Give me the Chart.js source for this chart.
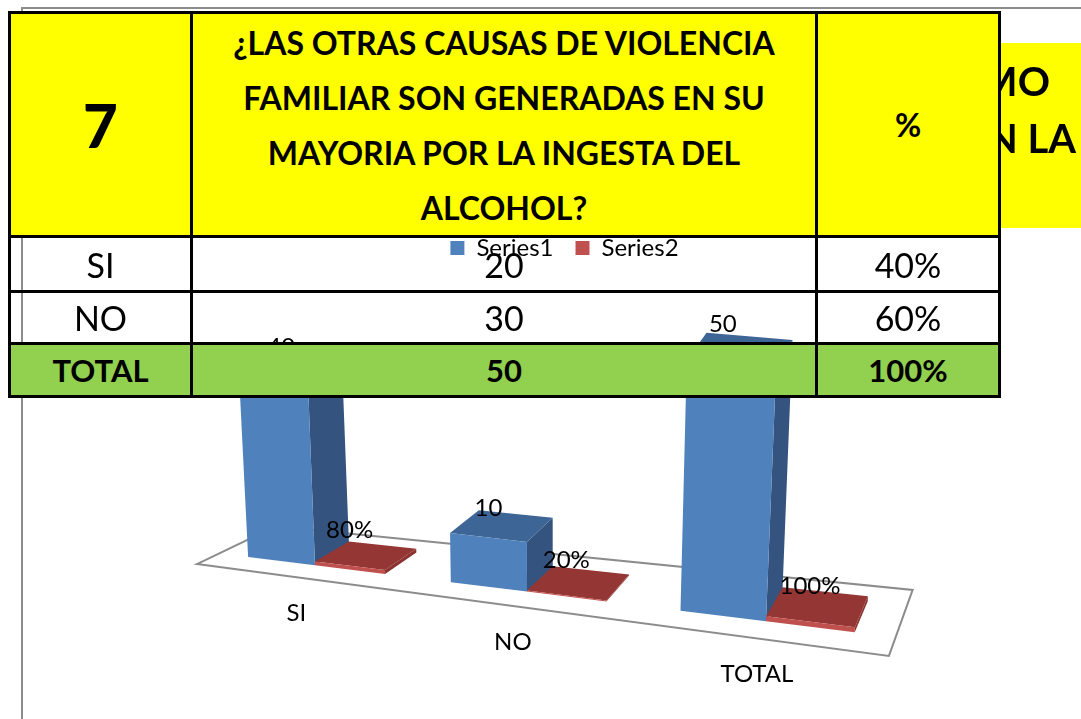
<!DOCTYPE html>
<html>
<head>
<meta charset="utf-8">
<script src="https://cdn.jsdelivr.net/npm/chart.js@4.4.0/dist/chart.umd.min.js"></script>
<style>
  html, body { margin: 0; padding: 0; background: #fff; width: 1081px; height: 719px; overflow: hidden; }
  #frame { position: absolute; left: 21px; top: 7px; width: 1200px; height: 800px;
           border-left: 2px solid #8c8c8c; border-top: 2px solid #8c8c8c; }
  #chartBox { position: absolute; left: 0; top: 0; width: 1081px; height: 719px; }
  #sideNote { position: absolute; left: 960px; top: 43px; width: 140px; height: 185px; background: #ffff00; }
  .note { position: absolute; font: bold 40px Lato, sans-serif; color: #000; white-space: nowrap; line-height: 1; }
  .cell { position: absolute; box-sizing: border-box; border: 3px solid #000;
          display: flex; align-items: center; justify-content: center; text-align: center;
          font-family: Lato, sans-serif; color: #000; }
</style>
</head>
<body>
<div id="frame"></div>
<div id="chartBox"><canvas id="chart"></canvas></div>
<div id="sideNote"></div>
<div class="note" style="right:31px; top:61px;">CONSUMO</div>
<div class="note" style="right:5px; top:118px;">EN LA</div>
<div id="table"></div>

<script>
// =========================================================
// DATA
// =========================================================
const categories = ["SI", "NO", "TOTAL"];
const series1Name = "Series1";
const series2Name = "Series2";
const series1Values = [40, 10, 50];
const series2Values = [0.8, 0.2, 1.0];   // shown as percentages

const questionNumber = "7";
const questionLines = [
  "¿LAS OTRAS CAUSAS DE VIOLENCIA",
  "FAMILIAR SON GENERADAS EN SU",
  "MAYORIA POR LA INGESTA DEL",
  "ALCOHOL?"
];
const tableRows = ["SI", "NO", "TOTAL"];
const tableCounts = [20, 30, 50];
const tablePercents = ["40%", "60%", "100%"];


// =========================================================
// TABLE (sits on top of the chart)
// =========================================================
const colX = [8, 190, 815, 998];
const rowY = [11, 235, 290, 342, 395];

function addCell(c, r, html, bg, style) {
  const d = document.createElement("div");
  d.className = "cell";
  d.style.left = colX[c] + "px";
  d.style.top = rowY[r] + "px";
  d.style.width = (colX[c + 1] - colX[c] + 3) + "px";
  d.style.height = (rowY[r + 1] - rowY[r] + 3) + "px";
  if (bg) d.style.background = bg;
  d.innerHTML = `<span style="${style}">${html}</span>`;
  document.getElementById("table").appendChild(d);
}

function buildTable() {
  const yellow = "#ffff00", green = "#92d050";
  addCell(0, 0, questionNumber, yellow, "font-weight:900;font-size:60px;");
  addCell(1, 0, questionLines.join("<br>"), yellow, "font-weight:bold;font-size:32px;line-height:55px;");
  addCell(2, 0, "%", yellow, "font-weight:bold;font-size:32px;");

  tableRows.forEach((label, i) => {
    const last = i === tableRows.length - 1;
    const bg = last ? green : null;
    const st = last ? "font-weight:bold;font-size:31px;" : "font-size:34px;";
    addCell(0, i + 1, label, bg, st);
    addCell(1, i + 1, tableCounts[i], bg, st);
    addCell(2, i + 1, tablePercents[i], bg, st);
  });
}


// =========================================================
// 3D VIEW
// =========================================================
// t = category position (0,1,2), v = value, z = depth (0 front, 1 back)
const view = {
  left: 315, spacing: 212, bend: 13.5,
  baseX: 248, baseY: 557, slope: 0.124,
  unit: 4.85, unitGrow: 0.0004, unitX: 281,
  leanX: 536, lean: 0.000174,
  depthX: 34, depthXGrow: -0.039, depthY: -20, depthYGrow: -0.02
};

function project(t, v, z) {
  const x0 = view.left + view.spacing * t + view.bend * t * (t - 1);
  const h = v * (view.unit + view.unitGrow * (x0 - view.unitX));
  const dx = view.depthX + view.depthXGrow * (x0 - view.left);
  const dy = view.depthY + view.depthYGrow * (x0 - view.left);
  return [
    x0 + (x0 - view.leanX) * view.lean * h + z * dx,
    view.baseY + view.slope * (x0 - view.baseX) - h + z * dy
  ];
}

function poly(ctx, pts, fill, stroke) {
  ctx.beginPath();
  pts.forEach((p, i) => i ? ctx.lineTo(p[0], p[1]) : ctx.moveTo(p[0], p[1]));
  ctx.closePath();
  if (fill) { ctx.fillStyle = fill; ctx.fill(); }
  if (stroke) { ctx.strokeStyle = stroke; ctx.stroke(); }
}

const faceColors = [
  { front: "#4f81bd", side: "#34547f", top: "#3d6596" },
  { front: "#c0504d", side: "#8a3330", top: "#943634" }
];

const bars3d = {
  id: "bars3d",
  beforeDatasetsDraw() { return false; },
  afterDraw(chart) {
    const ctx = chart.ctx;
    const xs = chart.scales.x, ys = chart.scales.y;
    const p0 = xs.getPixelForTick(0), p1 = xs.getPixelForTick(1);
    const tOf = px => (px - p0) / (p1 - p0);

    ctx.save();

    // floor
    const tl = tOf(xs.left), tr = tOf(xs.right);
    ctx.lineWidth = 2;
    poly(ctx, [project(tl, 0, -0.59), project(tr, 0, -0.59),
               project(tr, 0, 1.5), project(tl, 0, 1.5)], "#fff", "#8c8c8c");

    // boxes, left to right
    categories.forEach((c, i) => {
      chart.data.datasets.forEach((ds, di) => {
        const el = chart.getDatasetMeta(di).data[i];
        const ta = tOf(el.x - el.width / 2), tb = tOf(el.x + el.width / 2);
        const v = ys.getValueForPixel(el.y) - ys.getValueForPixel(el.base);
        const col = faceColors[di];
        poly(ctx, [project(tb, 0, 0), project(tb, 0, 1), project(tb, v, 1), project(tb, v, 0)], col.side);
        poly(ctx, [project(ta, v, 0), project(tb, v, 0), project(tb, v, 1), project(ta, v, 1)], col.top);
        poly(ctx, [project(ta, 0, 0), project(tb, 0, 0), project(tb, v, 0), project(ta, v, 0)], col.front);
      });
    });

    // value labels
    ctx.fillStyle = "#000";
    ctx.font = "24px Lato";
    ctx.textAlign = "center";
    ctx.textBaseline = "middle";
    chart.data.datasets.forEach((ds, di) => {
      chart.getDatasetMeta(di).data.forEach((el, i) => {
        const tc = tOf(el.x);
        const v = ds.data[i];
        const x = project(tc, 0, 0)[0];
        const top = project(tc, v, 0)[1];
        const off = di === 0 ? 20 + 0.045 * (x - 281) : 35;
        const txt = di === 0 ? String(v) : Math.round(v * 100) + "%";
        ctx.fillText(txt, x, top - off);
      });
    });

    // category labels under the floor
    xs.getLabels().forEach((lab, i) => {
      const p = project(tOf(xs.getPixelForTick(i)), 0, -0.55);
      ctx.fillText(lab, p[0], p[1] + 37);
    });

    ctx.restore();
  }
};


// =========================================================
// CHART
// =========================================================
function buildChart() {
  Chart.defaults.font.family = "Lato, sans-serif";
  Chart.defaults.color = "#000";

  new Chart(document.getElementById("chart"), {
    type: "bar",
    data: {
      labels: categories,
      datasets: [
        { label: series1Name, data: series1Values, backgroundColor: faceColors[0].front, borderWidth: 0 },
        { label: series2Name, data: series2Values, backgroundColor: faceColors[1].front, borderWidth: 0 }
      ]
    },
    options: {
      responsive: true,
      maintainAspectRatio: false,
      animation: false,
      categoryPercentage: 0.69,
      barPercentage: 1,
      layout: { padding: { left: 48, top: 214, bottom: 60 } },
      scales: {
        x: { display: false },
        y: { display: false, min: 0, max: 60 }
      },
      plugins: {
        legend: {
          position: "top",
          labels: { boxWidth: 14, boxHeight: 14, padding: 22, font: { size: 24 } }
        },
        tooltip: { enabled: false }
      }
    },
    plugins: [bars3d]
  });
}

buildTable();
buildChart();
</script>
</body>
</html>
